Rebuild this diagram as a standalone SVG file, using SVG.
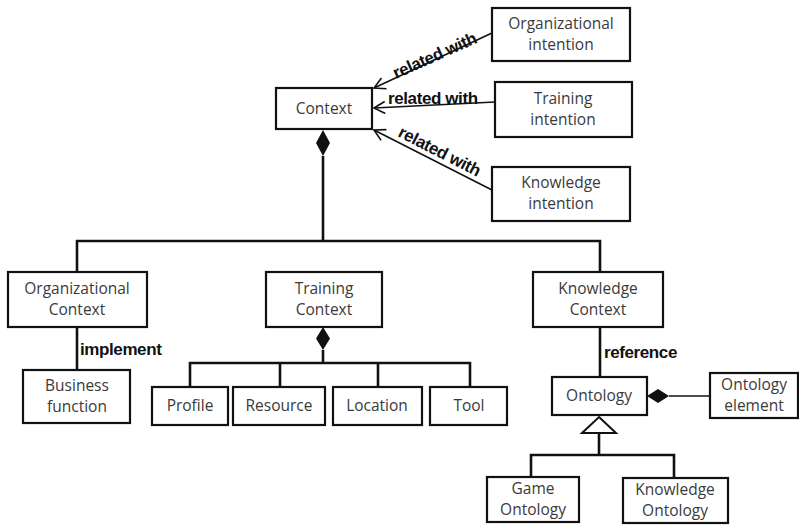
<svg xmlns="http://www.w3.org/2000/svg" width="799" height="526" viewBox="0 0 799 526">
<defs>
<style>
.box{fill:#fff;stroke:#111;stroke-width:2.2}
.t{font-family:"Open Sans","Noto Sans",sans-serif;font-size:15.5px;fill:#3a3a3a;text-anchor:middle}
.ln{fill:none;stroke:#111;stroke-width:2.6}
.thin{fill:none;stroke:#111;stroke-width:1.6}
.lbl{font-family:"Liberation Sans",Arial,sans-serif;font-size:17px;font-weight:bold;fill:#111;letter-spacing:-0.4px}
</style>
<marker id="arr" markerWidth="14" markerHeight="14" refX="12" refY="7" orient="auto" markerUnits="userSpaceOnUse">
<path d="M1,1 L12,7 L1,13" fill="none" stroke="#111" stroke-width="1.6"/>
</marker>
</defs>
<g id="connectors">
<line class="thin" x1="492" y1="33" x2="374" y2="88" marker-end="url(#arr)"/>
<line class="thin" x1="495" y1="102" x2="374" y2="108" marker-end="url(#arr)"/>
<line class="thin" x1="492" y1="190" x2="374" y2="130" marker-end="url(#arr)"/>
<text class="lbl" transform="translate(396,79) rotate(-24)">related with</text>
<text class="lbl" x="388" y="104">related with</text>
<text class="lbl" transform="translate(397,136) rotate(27)">related with</text>
<path class="ln" d="M323,156 V241 M77,272 V241 H600 V272"/>
<path d="M323,130 L330,143 L323,156 L316,143 Z" fill="#111"/>
<path class="ln" d="M77,327 V370"/>
<text class="lbl" x="80" y="355">implement</text>
<path class="ln" d="M323,350 V363 M190,387 V363 H470 V387 M280,363 V387 M378,363 V387"/>
<path d="M323,327 L330,338.5 L323,350 L316,338.5 Z" fill="#111"/>
<path class="ln" d="M600,327 V377"/>
<text class="lbl" x="604" y="358">reference</text>
<path class="thin" d="M669,396 H712"/>
<path d="M647,396 L658,389 L669,396 L658,403 Z" fill="#111"/>
<path class="ln" d="M599,433 V455 M531,478 V455 H674 V478"/>
<path d="M599,417 L616,433 L582,433 Z" fill="#fff" stroke="#111" stroke-width="2"/>
</g>
<g id="context"><rect class="box" x="276" y="88" width="96" height="41"/><text class="t" x="324" y="114">Context</text></g>
<g id="org-intention"><rect class="box" x="492" y="8" width="138" height="53"/><text class="t" x="561" y="29">Organizational</text><text class="t" x="561" y="50">intention</text></g>
<g id="training-intention"><rect class="box" x="495" y="82" width="137" height="55"/><text class="t" x="563" y="104">Training</text><text class="t" x="563" y="125">intention</text></g>
<g id="knowledge-intention"><rect class="box" x="492" y="167" width="138" height="54"/><text class="t" x="561" y="188">Knowledge</text><text class="t" x="561" y="209">intention</text></g>
<g id="org-context"><rect class="box" x="8" y="272" width="139" height="55"/><text class="t" x="77" y="294">Organizational</text><text class="t" x="77" y="315">Context</text></g>
<g id="training-context"><rect class="box" x="266" y="272" width="116" height="55"/><text class="t" x="324" y="294">Training</text><text class="t" x="324" y="315">Context</text></g>
<g id="knowledge-context"><rect class="box" x="533" y="272" width="130" height="55"/><text class="t" x="598" y="294">Knowledge</text><text class="t" x="598" y="315">Context</text></g>
<g id="business-function"><rect class="box" x="23" y="370" width="107" height="53"/><text class="t" x="77" y="391">Business</text><text class="t" x="77" y="412">function</text></g>
<g id="profile"><rect class="box" x="152" y="387" width="76" height="38"/><text class="t" x="190" y="411">Profile</text></g>
<g id="resource"><rect class="box" x="233" y="387" width="92" height="38"/><text class="t" x="279" y="411">Resource</text></g>
<g id="location"><rect class="box" x="333" y="387" width="89" height="38"/><text class="t" x="377" y="411">Location</text></g>
<g id="tool"><rect class="box" x="430" y="387" width="77" height="38"/><text class="t" x="469" y="411">Tool</text></g>
<g id="ontology"><rect class="box" x="552" y="377" width="95" height="38"/><text class="t" x="599" y="401">Ontology</text></g>
<g id="ontology-element"><rect class="box" x="710" y="373" width="88" height="45"/><text class="t" x="754" y="390">Ontology</text><text class="t" x="754" y="411">element</text></g>
<g id="game-ontology"><rect class="box" x="487" y="477" width="92" height="45"/><text class="t" x="533" y="494">Game</text><text class="t" x="533" y="515">Ontology</text></g>
<g id="knowledge-ontology"><rect class="box" x="623" y="478" width="105" height="45"/><text class="t" x="675" y="495">Knowledge</text><text class="t" x="675" y="516">Ontology</text></g>
</svg>
